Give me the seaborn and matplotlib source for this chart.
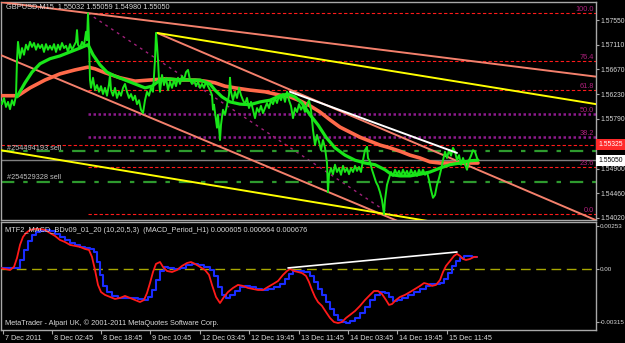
import matplotlib
matplotlib.use("Agg")
import matplotlib.pyplot as plt
import matplotlib.transforms as mtransforms
import numpy as np
import pandas as pd
import seaborn as sns

# ---------------- data (bar index, price) ----------------
price_bar = [0,2,4,6,8,10,12,14,16,17,
             18,20,22,24,26,28,30,32,34,36,
             38,40,42,44,46,48,50,52,54,56,
             58,60,62,64,66,68,70,72,74,76,
             77,78,80,82,84,86,87,88,89,90,
             91,93,95,97,99,101,103,105,107,109,
             110,111,113,115,117,119,121,123,125,127,
             129,131,133,135,137,139,141,143,145,147,
             149,151,153,155,156,157,158,159,160,162,
             164,166,168,170,172,174,176,178,180,182,
             184,186,188,190,192,194,196,198,200,202,
             204,206,208,210,212,213,214,216,217,218,
             220,221,223,225,227,229,230,231,233,235,
             237,239,241,243,245,247,249,251,253,255,
             257,259,261,263,265,267,269,271,273,275,
             277,279,281,283,285,287,289,291,293,295,
             297,299,301,303,305,307,309,311,313,315,
             317,319,321,323,325,327,328,329,331,333,
             335,337,339,341,343,345,347,349,351,353,
             355,357,359,361,363,365,367,368,370,372,
             374,376,378,380,382,384,385,387,389,391,
             393,395,397,399,401,403,405,407,409,411,
             413,415,417,419,421,423,425,427,429,431,
             433,435,437,439,441,443,445,447,449,451,
             453,455,457,459,461,463,465,467,469,471,
             473,475,477,478]
price_close = [1.5612,1.5605,1.5616,1.5600,1.5609,1.5596,1.5612,1.5603,1.5620,1.5684,
               1.5716,1.5687,1.5705,1.5693,1.5711,1.5702,1.5716,1.5707,1.5714,1.5702,
               1.5712,1.5705,1.5711,1.5698,1.5712,1.5702,1.5709,1.5702,1.5712,1.5698,
               1.5711,1.5702,1.5714,1.5705,1.5709,1.5698,1.5712,1.5702,1.5709,1.5716,
               1.5737,1.5711,1.5705,1.5716,1.5709,1.5734,1.5719,1.5767,1.5719,1.5648,
               1.5634,1.5652,1.5630,1.5639,1.5627,1.5637,1.5623,1.5634,1.5620,1.5641,
               1.5657,1.5630,1.5620,1.5634,1.5616,1.5627,1.5620,1.5634,1.5641,1.5627,
               1.5616,1.5623,1.5612,1.5620,1.5605,1.5612,1.5595,1.5589,1.5612,1.5627,
               1.5620,1.5634,1.5627,1.5684,1.5732,1.5711,1.5684,1.5648,1.5627,1.5657,
               1.5639,1.5652,1.5630,1.5645,1.5634,1.5648,1.5637,1.5652,1.5641,1.5655,
               1.5648,1.5662,1.5666,1.5648,1.5641,1.5648,1.5637,1.5645,1.5634,1.5641,
               1.5634,1.5645,1.5637,1.5630,1.5621,1.5595,1.5604,1.5577,1.5563,1.5586,
               1.5541,1.5568,1.5595,1.5586,1.5604,1.5621,1.5652,1.5627,1.5612,1.5627,
               1.5616,1.5634,1.5621,1.5612,1.5605,1.5616,1.5598,1.5609,1.5595,1.5580,
               1.5598,1.5591,1.5602,1.5589,1.5598,1.5607,1.5598,1.5612,1.5605,1.5616,
               1.5607,1.5620,1.5612,1.5623,1.5609,1.5627,1.5612,1.5602,1.5580,1.5598,
               1.5591,1.5605,1.5595,1.5602,1.5591,1.5605,1.5612,1.5595,1.5559,1.5532,
               1.5550,1.5538,1.5523,1.5541,1.5527,1.5500,1.5448,1.5479,1.5491,1.5480,
               1.5497,1.5484,1.5491,1.5479,1.5495,1.5484,1.5491,1.5480,1.5491,1.5484,
               1.5495,1.5486,1.5493,1.5484,1.5505,1.5523,1.5529,1.5509,1.5502,1.5488,
               1.5477,1.5466,1.5459,1.5448,1.5434,1.5409,1.5434,1.5461,1.5473,1.5484,
               1.5477,1.5488,1.5479,1.5486,1.5477,1.5488,1.5479,1.5486,1.5477,1.5488,
               1.5479,1.5486,1.5477,1.5488,1.5480,1.5488,1.5479,1.5484,1.5470,1.5452,
               1.5438,1.5443,1.5461,1.5473,1.5488,1.5505,1.5520,1.5509,1.5523,1.5513,
               1.5527,1.5520,1.5505,1.5514,1.5497,1.5509,1.5498,1.5488,1.5505,1.5513,
               1.5523,1.5520,1.5509,1.5505]

green_ma_bar = [17,25,32,40,50,60,70,80,88,93,
                100,107,115,125,135,145,152,160,170,180,
                190,200,210,215,222,230,240,250,260,270,
                280,288,295,302,310,318,326,335,345,355,
                365,375,385,392,400,410,420,430,440,450,
                460,470,478]
green_ma = [1.5618,1.5643,1.5662,1.5677,1.5686,1.5691,1.5698,1.5705,1.5711,1.5693,
            1.5675,1.5662,1.5655,1.5648,1.5641,1.5634,1.5637,1.5648,1.5650,1.5648,
            1.5648,1.5648,1.5641,1.5630,1.5618,1.5609,1.5605,1.5604,1.5609,1.5612,
            1.5620,1.5623,1.5618,1.5607,1.5586,1.5568,1.5546,1.5527,1.5514,1.5505,
            1.5500,1.5497,1.5488,1.5479,1.5477,1.5477,1.5480,1.5484,1.5491,1.5497,
            1.5500,1.5504,1.5505]

orange_ma_bar = [0,18,30,45,60,75,88,95,105,120,
                 135,150,165,180,195,205,215,225,235,250,
                 265,280,290,300,310,320,330,340,350,360,
                 370,380,390,400,410,420,430,440,450,460,
                 470,478]
orange_ma = [1.5620,1.5620,1.5634,1.5648,1.5659,1.5666,1.5671,1.5668,1.5661,1.5652,
             1.5646,1.5648,1.5650,1.5648,1.5648,1.5646,1.5643,1.5637,1.5634,1.5630,
             1.5627,1.5621,1.5618,1.5611,1.5602,1.5591,1.5577,1.5564,1.5555,1.5546,
             1.5539,1.5532,1.5527,1.5521,1.5514,1.5509,1.5502,1.5500,1.5500,1.5500,
             1.5500,1.5500]

# trend-line objects: (bar1, bar2), (price1, price2)
channel_top_bars, channel_top_prices = (0, 596), (1.5787, 1.5654)
channel_mid_bars, channel_mid_prices = (0, 440), (1.5693, 1.5365)
channel_low_bars, channel_low_prices = (157, 596), (1.5732, 1.5398)
yellow_up_bars, yellow_up_prices = (157, 596), (1.5732, 1.5605)
yellow_low_bars, yellow_low_prices = (0, 440), (1.5523, 1.5393)
white_bars, white_prices = (290, 457), (1.5627, 1.5518)

# fibonacci
fib_high_bar, fib_low_bar = 88, 390
fib_high, fib_low = 1.5767, 1.5409
fib_ratios = [0.0, 0.236, 0.382, 0.5, 0.618, 0.764, 1.0]
fib_labels = ["0.0", "23.6", "38.2", "50.0", "61.8", "76.4", "100.0"]

# order / price lines
sl_price = 1.55325
order1_price, order1_label = 1.5522, "#254494193 sell"
order2_price, order2_label = 1.5466, "#254529328 sell"
bid_price = 1.55050

price_ticks = [1.57550, 1.57110, 1.56670, 1.56230, 1.55790, 1.54900, 1.54460, 1.54020]

# MACD sub-window
macd_red_bar = [0,5,10,14,17,20,23,26,30,35,
                40,45,50,55,60,65,70,75,80,85,
                89,92,95,98,101,105,110,115,120,125,
                130,135,140,144,147,150,153,156,160,163,
                167,172,177,182,187,191,195,200,205,209,
                212,216,220,224,228,233,238,243,248,253,
                258,263,268,273,278,283,287,290,294,298,
                302,306,309,312,315,318,322,326,330,334,
                338,342,346,350,355,360,365,370,374,378,
                382,386,389,392,396,400,405,410,415,420,
                424,428,432,436,440,443,446,450,454,457,
                460,463,466,470,474,477]
macd_red = [0.00006,0.0,-0.00006,0.00012,0.00065,0.00142,0.00189,0.00212,0.00230,0.00236,
            0.00236,0.00230,0.00212,0.00195,0.00171,0.00159,0.00142,0.00136,0.00130,0.00118,
            0.00112,0.00071,-0.00006,-0.00094,-0.00136,-0.00153,-0.00165,-0.00177,-0.00171,-0.00159,
            -0.00171,-0.00183,-0.00195,-0.00183,-0.00142,-0.00083,-0.00018,0.00030,0.00041,0.00012,
            -0.00012,-0.00018,-0.00006,0.00018,0.00035,0.00041,0.00030,0.00012,-0.00006,-0.00035,
            -0.00094,-0.00165,-0.00201,-0.00165,-0.00136,-0.00112,-0.00094,-0.00100,-0.00112,-0.00118,
            -0.00124,-0.00124,-0.00106,-0.00089,-0.00071,-0.00035,-0.00012,0.0,-0.00012,-0.00018,
            -0.00024,-0.00041,-0.00077,-0.00124,-0.00165,-0.00195,-0.00218,-0.00254,-0.00289,-0.00313,
            -0.00319,-0.00313,-0.00289,-0.00271,-0.00248,-0.00218,-0.00183,-0.00153,-0.00130,-0.00130,
            -0.00148,-0.00183,-0.00212,-0.00207,-0.00183,-0.00165,-0.00153,-0.00136,-0.00118,-0.00100,
            -0.00083,-0.00089,-0.00100,-0.00094,-0.00065,-0.00018,0.00018,0.00047,0.00077,0.00089,
            0.00077,0.00059,0.00053,0.00059,0.00071,0.00071]
macd_blue_bar = [0,5,10,15,20,24,28,32,36,40,
                 45,50,55,60,65,70,75,80,85,90,
                 94,97,100,103,107,112,118,125,132,138,
                 144,148,152,156,160,164,168,174,180,186,
                 192,198,204,210,214,218,222,226,230,235,
                 240,245,250,256,262,268,274,280,285,289,
                 293,298,304,310,314,318,322,326,330,334,
                 338,342,346,350,355,360,365,370,375,380,
                 385,389,393,397,402,408,414,420,426,430,
                 435,440,444,448,452,456,460,464,468,472,
                 477]
macd_blue = [0.00006,0.00006,0.00006,0.00006,0.00053,0.00112,0.00165,0.00201,0.00218,0.00224,
             0.00230,0.00224,0.00207,0.00189,0.00171,0.00153,0.00142,0.00130,0.00124,0.00118,
             0.00100,0.00041,-0.00035,-0.00100,-0.00136,-0.00159,-0.00171,-0.00171,-0.00171,-0.00177,
             -0.00183,-0.00165,-0.00124,-0.00065,-0.00012,0.00012,0.00006,0.0,0.00006,0.00024,
             0.00030,0.00024,0.00012,-0.00006,-0.00041,-0.00106,-0.00153,-0.00171,-0.00153,-0.00130,
             -0.00106,-0.00100,-0.00106,-0.00118,-0.00124,-0.00118,-0.00106,-0.00089,-0.00059,-0.00030,
             -0.00012,-0.00012,-0.00018,-0.00041,-0.00077,-0.00118,-0.00153,-0.00195,-0.00236,-0.00271,
             -0.00301,-0.00313,-0.00319,-0.00307,-0.00289,-0.00260,-0.00224,-0.00183,-0.00153,-0.00136,
             -0.00142,-0.00165,-0.00189,-0.00183,-0.00171,-0.00153,-0.00136,-0.00118,-0.00100,-0.00089,
             -0.00089,-0.00083,-0.00059,-0.00024,0.00018,0.00047,0.00065,0.00077,0.00077,0.00071,
             0.00071]
macd_white_bars, macd_white_vals = (288, 457), (0.00006, 0.00100)
macd_ticks = [0.00253, 0.0, -0.00315]
macd_tick_labels = ["0.00253", "0.00", "-0.00315"]

time_tick_bars = [3, 52, 101, 150, 200, 249, 299, 348, 397, 447]
time_tick_labels = ["7 Dec 2011", "8 Dec 02:45", "8 Dec 18:45", "9 Dec 10:45", "12 Dec 03:45",
                    "12 Dec 19:45", "13 Dec 11:45", "14 Dec 03:45", "14 Dec 19:45", "15 Dec 11:45"]

header = "GBPUSD,M15  1.55032 1.55059 1.54980 1.55050"
macd_title = "MTF2_MACD_BDv09_01_20 (10,20,5,3)  (MACD_Period_H1) 0.000605 0.000664 0.000676"
copyright_text = "MetaTrader - Alpari UK, \u00a9 2001-2011 MetaQuotes Software Corp."

# ---------------- drawing ----------------
sns.set_theme(style="dark")
plt.rcParams['font.family'] = ['Liberation Sans', 'DejaVu Sans']

W, H = 625, 343
fig = plt.figure(figsize=(W / 100, H / 100), dpi=100, facecolor='black')
ax = fig.add_axes([1 / W, 1 - 220 / H, 595 / W, 218 / H])
ax2 = fig.add_axes([1 / W, 1 - 330 / H, 595 / W, 108 / H])

TXT = '#d8d8d8'
BORDER = '#a8a8a8'
for a in (ax, ax2):
    a.set_facecolor('black')
    a.grid(False)
    for s in a.spines.values():
        s.set_visible(True)
        s.set_color(BORDER)
        s.set_linewidth(1.0)
    a.set_xlim(1, 596)

ax.set_ylim(1.53984, 1.57871)
ax2.set_ylim(-0.00360, 0.00277)

# fibonacci levels
FIB_RED = '#ff1a1a'
FIB_PURPLE = '#8e1a8e'
for r, lab in zip(fib_ratios, fib_labels):
    lvl = fib_low + r * (fib_high - fib_low)
    if lab in ("50.0", "38.2"):
        ax.plot([fib_high_bar, 596], [lvl, lvl], color=FIB_PURPLE, lw=1.8,
                linestyle=(0, (1, 1)), zorder=2)
    else:
        ax.plot([fib_high_bar, 596], [lvl, lvl], color=FIB_RED, lw=0.8,
                linestyle=(0, (3, 2)), zorder=2)
    ax.text(594, lvl, lab, ha='right', va='bottom', color='#b0207e', fontsize=5.3, zorder=6)
ax.plot([fib_high_bar, fib_low_bar], [fib_high, fib_low], color='#a0207a', lw=1.0,
        linestyle=(0, (2, 3)), zorder=2)

# order / price lines
ax.axhline(sl_price, color=FIB_RED, lw=0.8, linestyle=(0, (3, 2)), zorder=2)
ax.axhline(order1_price, color='#2e9a2e', lw=1.6, linestyle=(0, (6, 4, 2, 4)), zorder=2)
ax.axhline(order2_price, color='#2e9a2e', lw=1.6, linestyle=(0, (6, 4, 2, 4)), zorder=2)
ax.axhline(bid_price, color='#808080', lw=1.0, zorder=2)
ax.text(7, order1_price + 0.00045, order1_label, ha='left', va='center', color='#c0c0c0',
        fontsize=5.3, zorder=6)
ax.text(7, order2_price + 0.0009, order2_label, ha='left', va='center', color='#c0c0c0',
        fontsize=5.3, zorder=6)

# trend lines
SALMON = '#f4806c'
for bars, prices in [(channel_top_bars, channel_top_prices),
                     (channel_mid_bars, channel_mid_prices),
                     (channel_low_bars, channel_low_prices)]:
    ax.plot(bars, prices, color=SALMON, lw=1.4, zorder=3)
for bars, prices in [(yellow_up_bars, yellow_up_prices), (yellow_low_bars, yellow_low_prices)]:
    ax.plot(bars, prices, color='#ffff00', lw=1.4, zorder=3)
ax.plot(white_bars, white_prices, color='white', lw=1.4, zorder=5)

# series
df_price = pd.DataFrame({'bar': price_bar, 'price': price_close})
df_gma = pd.DataFrame({'bar': green_ma_bar, 'price': green_ma})
df_oma = pd.DataFrame({'bar': orange_ma_bar, 'price': orange_ma})
sns.lineplot(data=df_oma, x='bar', y='price', ax=ax, color='#ff6a4a', lw=2.6,
             estimator=None, sort=False, zorder=4)
sns.lineplot(data=df_price, x='bar', y='price', ax=ax, color='#19e619', lw=1.4,
             estimator=None, sort=False, zorder=4)
sns.lineplot(data=df_gma, x='bar', y='price', ax=ax, color='#19e619', lw=2.3,
             estimator=None, sort=False, zorder=4)

ax.set_xlabel('')
ax.set_ylabel('')
ax.yaxis.tick_right()
ax.set_yticks(price_ticks)
ax.set_yticklabels([f"{t:.5f}" for t in price_ticks])
ax.tick_params(axis='y', which='both', right=True, left=False, direction='out', length=2,
               width=0.8, color=BORDER, labelcolor=TXT, labelsize=4.9, pad=1)
ax.tick_params(axis='x', bottom=False, labelbottom=False)
ax.set_xlim(1, 596)
ax.set_ylim(1.53984, 1.57871)

trans = mtransforms.blended_transform_factory(ax.transAxes, ax.transData)
ax.text(1.0035, sl_price, "1.55325", transform=trans, ha='left', va='center', fontsize=4.9,
        color='white', bbox=dict(boxstyle='square,pad=0.3', fc='#ff2a2a', ec='none'),
        clip_on=False, zorder=7)
ax.text(1.0035, bid_price, "1.55050", transform=trans, ha='left', va='center', fontsize=4.9,
        color='black', bbox=dict(boxstyle='square,pad=0.3', fc='white', ec='none'),
        clip_on=False, zorder=7)

# MACD
df_red = pd.DataFrame({'bar': macd_red_bar, 'val': macd_red})
df_blue = pd.DataFrame({'bar': macd_blue_bar, 'val': macd_blue})
ax2.axhline(0.0, color='#a8a800', lw=1.0, linestyle=(0, (7, 4)), zorder=2)
sns.lineplot(data=df_blue, x='bar', y='val', ax=ax2, color='#1a2cff', lw=1.5,
             estimator=None, sort=False, zorder=3, drawstyle='steps-post')
sns.lineplot(data=df_red, x='bar', y='val', ax=ax2, color='#ff1a1a', lw=1.3,
             estimator=None, sort=False, zorder=4)
ax2.plot(macd_white_bars, macd_white_vals, color='white', lw=1.2, zorder=5)

ax2.set_xlabel('')
ax2.set_ylabel('')
ax2.yaxis.tick_right()
ax2.set_yticks(macd_ticks)
ax2.set_yticklabels(macd_tick_labels)
ax2.tick_params(axis='y', right=True, left=False, direction='out', length=2, width=0.8,
                color=BORDER, labelcolor=TXT, labelsize=4.5, pad=1)
ax2.set_xticks(time_tick_bars)
ax2.set_xticklabels(time_tick_labels)
ax2.tick_params(axis='x', bottom=True, direction='out', length=3, width=0.8, color=BORDER,
                labelcolor=TXT, labelsize=5.2, pad=0.5)
offset = mtransforms.ScaledTranslation(2 / 100, 0, fig.dpi_scale_trans)
for lbl in ax2.get_xticklabels():
    lbl.set_horizontalalignment('left')
    lbl.set_transform(lbl.get_transform() + offset)
ax2.set_xlim(1, 596)
ax2.set_ylim(-0.00360, 0.00277)

fig.text(6 / W, 1 - 7 / H, header, ha='left', va='center', color=TXT, fontsize=5.3)
fig.text(5 / W, 1 - 230 / H, macd_title, ha='left', va='center', color=TXT, fontsize=5.3)
fig.text(5 / W, 1 - 323 / H, copyright_text, ha='left', va='center', color=TXT, fontsize=5.3)

fig.savefig('out.png', dpi=100, facecolor='black')
